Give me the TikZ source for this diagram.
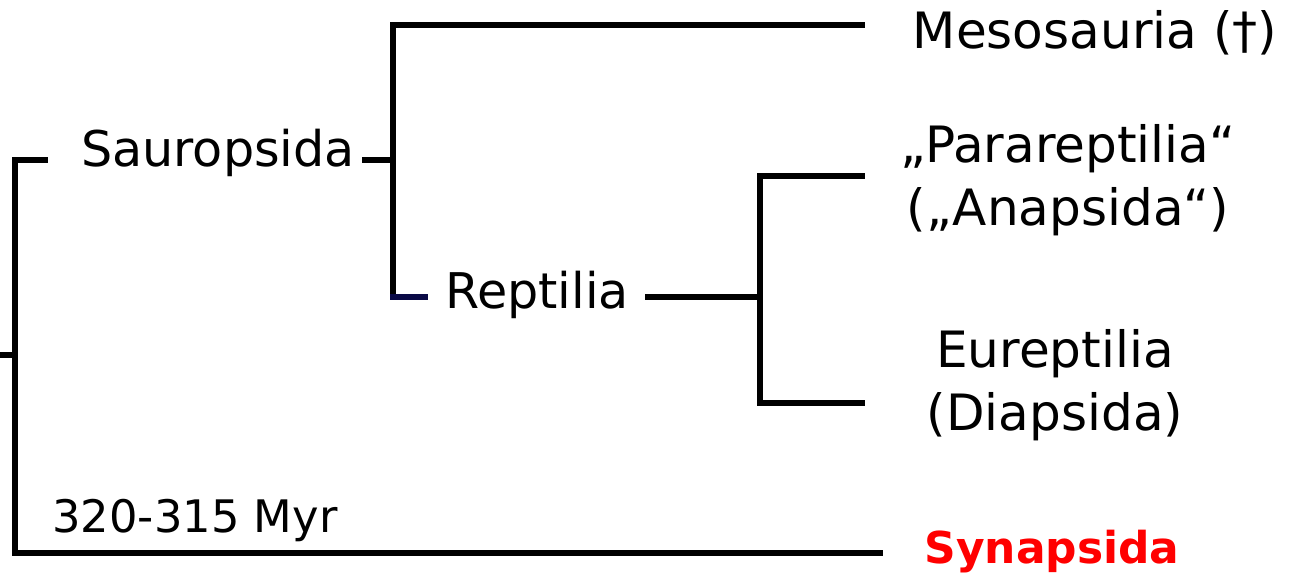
\documentclass[tikz,border=0pt]{standalone}
\usepackage{fontspec}
\setmainfont{DejaVu Sans}
\usepackage{xcolor}
\usepackage{tikz}
\usetikzlibrary{positioning}

\definecolor{synred}{RGB}{255,0,0}
\definecolor{stubnavy}{RGB}{10,10,70}

\begin{document}
\begin{tikzpicture}[
    x=0.02cm, y=-0.02cm,
    taxon/.style={inner sep=0pt,align=center,font=\fontsize{28.5}{35.5}\selectfont},
    clade/.style={inner sep=0pt,font=\fontsize{28}{32}\selectfont},
    branch/.style={line width=2.9pt,line cap=rect,line join=miter}
  ]
    \useasboundingbox (0,0) rectangle (1291,588);

    % tree joints
    \coordinate (root) at (0,355);
    \coordinate (rootbar) at (15,355);
    \coordinate (sauA) at (45,160);
    \coordinate (sauB) at (365,160);
    \coordinate (sauJ) at (393,160);
    \coordinate (sauTop) at (393,25);
    \coordinate (sauBot) at (393,297);
    \coordinate (meso) at (862,25);
    \coordinate (repA) at (425,297);
    \coordinate (repB) at (648,297);
    \coordinate (repJ) at (760,297);
    \coordinate (para) at (862,176);
    \coordinate (eure) at (862,403);
    \coordinate (syn) at (880,553);

    % labels
    \node[clade] (sauropsida) at (218,153) {Sauropsida};
    \node[clade] (reptilia) at (537,295) {Reptilia};
    \node[taxon] (mesosauria) at (1095,33) {Mesosauria (†)};
    \node[taxon] (parareptilia) at (1068,180) {„Parareptilia“\\(„Anapsida“)};
    \node[taxon] (eureptilia) at (1055,385) {Eureptilia\\(Diapsida)};
    \node[taxon,font=\fontsize{25}{30}\selectfont\bfseries,text=synred] (synapsida) at (1052,552) {Synapsida};
    \node[clade,font=\fontsize{25.5}{30}\selectfont] (myr) at (195,521) {320-315 Myr};

    % branches
    \draw[branch] (root) -- (rootbar);
    \draw[branch] (sauA) -| (rootbar) |- (syn);
    \draw[branch] (sauB) -- (sauJ);
    \draw[branch] (meso) -- (sauTop) -- (sauBot);
    \draw[branch,stubnavy] (sauBot) -- (repA);
    \draw[branch] (repB) -- (repJ);
    \draw[branch] (para) -| (repJ) |- (eure);
\end{tikzpicture}
\end{document}
